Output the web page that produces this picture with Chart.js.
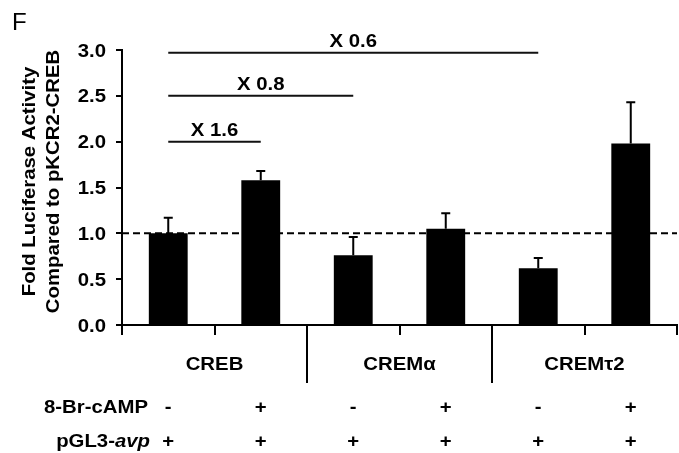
<!DOCTYPE html>
<html>
<head>
<meta charset="utf-8">
<script src="https://cdn.jsdelivr.net/npm/chart.js@4/dist/chart.umd.min.js"></script>
<style>
  html, body { margin: 0; padding: 0; background: #ffffff; }
  #wrap { width: 679px; height: 453px; }
</style>
</head>
<body>
<div id="wrap"><canvas id="c" width="679" height="453"></canvas></div>
<script>
// ---- data ----
const categories = ['CREB -', 'CREB +', 'CREMα -', 'CREMα +', 'CREMτ2 -', 'CREMτ2 +'];
const groupLabels = ['CREB', 'CREMα', 'CREMτ2'];
const meanValues = [1.00, 1.58, 0.76, 1.05, 0.62, 1.98];
const errorValues = [0.17, 0.10, 0.20, 0.17, 0.11, 0.45];
const campSigns = ['-', '+', '-', '+', '-', '+'];
const pgl3Signs = ['+', '+', '+', '+', '+', '+'];
const yTickLabels = ['0.0', '0.5', '1.0', '1.5', '2.0', '2.5', '3.0'];
const yTitleLines = ['Fold Luciferase Activity', 'Compared to pKCR2-CREB'];
const bracketLabels = ['X 1.6', 'X 0.8', 'X 0.6'];
const bracketFrom = [0, 0, 0];
const bracketTo = [1, 2, 4];
const bracketLevels = [2.0, 2.5, 2.97];
const referenceLevel = 1.0;
const panelLetter = 'F';

// ---- styling ----
const BOLD = 'bold 18px "Liberation Sans", Arial, sans-serif';
const ITAL = 'italic bold 18px "Liberation Sans", Arial, sans-serif';
const STRETCH = 1.13;

function sText(ctx, text, x, y, align, font, sx) {
  ctx.save();
  ctx.font = font;
  ctx.fillStyle = '#000';
  ctx.textBaseline = 'alphabetic';
  const w = ctx.measureText(text).width * sx;
  let left = x;
  if (align === 'center') left = x - w / 2;
  else if (align === 'right') left = x - w;
  ctx.translate(left, y);
  ctx.scale(sx, 1);
  ctx.textAlign = 'left';
  ctx.fillText(text, 0, 0);
  ctx.restore();
}

const decor = {
  id: 'decor',
  afterDraw(chart) {
    const ctx = chart.ctx;
    const xs = chart.scales.x, ys = chart.scales.y;
    const area = chart.chartArea;
    const meta = chart.getDatasetMeta(0);

    // reference dashed line
    ctx.save();
    ctx.strokeStyle = '#000';
    ctx.lineWidth = 2;
    ctx.setLineDash([7, 4]);
    const yr = ys.getPixelForValue(referenceLevel);
    ctx.beginPath();
    ctx.moveTo(area.left, yr);
    ctx.lineTo(area.right, yr);
    ctx.stroke();
    ctx.restore();

    // error bars (upper only)
    ctx.save();
    ctx.strokeStyle = '#000';
    ctx.lineWidth = 2;
    meta.data.forEach((el, i) => {
      const yTop = ys.getPixelForValue(meanValues[i] + errorValues[i]);
      ctx.beginPath();
      ctx.moveTo(el.x, el.y);
      ctx.lineTo(el.x, yTop);
      ctx.moveTo(el.x - 4.5, yTop);
      ctx.lineTo(el.x + 4.5, yTop);
      ctx.stroke();
    });
    ctx.restore();

    // comparison brackets
    ctx.save();
    ctx.strokeStyle = '#111';
    ctx.lineWidth = 2;
    bracketLabels.forEach((lab, i) => {
      const x1 = xs.getPixelForValue(bracketFrom[i]);
      const x2 = xs.getPixelForValue(bracketTo[i]);
      const y = ys.getPixelForValue(bracketLevels[i]);
      ctx.beginPath();
      ctx.moveTo(x1, y);
      ctx.lineTo(x2, y);
      ctx.stroke();
      sText(ctx, lab, (x1 + x2) / 2, y - 6, 'center', BOLD, STRETCH);
    });
    ctx.restore();

    // group separators (long ticks)
    ctx.save();
    ctx.strokeStyle = '#000';
    ctx.lineWidth = 2;
    for (let g = 1; g < groupLabels.length; g++) {
      const xb = (xs.getPixelForValue(2 * g - 1) + xs.getPixelForValue(2 * g)) / 2;
      ctx.beginPath();
      ctx.moveTo(xb, area.bottom);
      ctx.lineTo(xb, area.bottom + 58);
      ctx.stroke();
    }
    ctx.restore();

    // group labels
    groupLabels.forEach((lab, g) => {
      const xc = (xs.getPixelForValue(2 * g) + xs.getPixelForValue(2 * g + 1)) / 2;
      sText(ctx, lab, xc, area.bottom + 45, 'center', BOLD, STRETCH);
    });

    // treatment rows
    const row1 = area.bottom + 88, row2 = area.bottom + 122;
    const labRight = 148;
    sText(ctx, '8-Br-cAMP', labRight, row1, 'right', BOLD, STRETCH);
    ctx.save();
    ctx.font = BOLD;
    const wA = ctx.measureText('pGL3-').width * STRETCH;
    ctx.font = ITAL;
    const wB = ctx.measureText('avp').width * STRETCH;
    ctx.restore();
    sText(ctx, 'pGL3-', labRight + 2 - wA - wB, row2, 'left', BOLD, STRETCH);
    sText(ctx, 'avp', labRight + 2 - wB, row2, 'left', ITAL, STRETCH);
    categories.forEach((c, i) => {
      const xc = xs.getPixelForValue(i);
      sText(ctx, campSigns[i], xc, row1, 'center', BOLD, STRETCH);
      sText(ctx, pgl3Signs[i], xc, row2, 'center', BOLD, STRETCH);
    });

    // y tick labels
    ys.ticks.forEach((t, i) => {
      const yp = ys.getPixelForValue(t.value);
      const lab = yTickLabels[i];
      if (lab !== undefined) sText(ctx, lab, area.left - 16, yp + 6.5, 'right', BOLD, STRETCH);
    });

    // y title (rotated)
    const ym = (area.top + area.bottom) / 2 - 6;
    [35, 59].forEach((bx, k) => {
      ctx.save();
      ctx.font = BOLD;
      ctx.fillStyle = '#000';
      ctx.translate(bx, ym);
      ctx.rotate(-Math.PI / 2);
      ctx.scale(STRETCH, 1);
      ctx.textAlign = 'center';
      ctx.textBaseline = 'alphabetic';
      ctx.fillText(yTitleLines[k], 0, 0);
      ctx.restore();
    });

    // panel letter
    ctx.save();
    ctx.font = '24px "Liberation Sans", Arial, sans-serif';
    ctx.fillStyle = '#000';
    ctx.textAlign = 'left';
    ctx.textBaseline = 'alphabetic';
    ctx.fillText(panelLetter, 12, 30);
    ctx.restore();
  }
};

new Chart(document.getElementById('c'), {
  type: 'bar',
  data: {
    labels: categories,
    datasets: [{
      data: meanValues,
      backgroundColor: '#000',
      borderWidth: 0,
      barPercentage: 0.42,
      categoryPercentage: 1.0
    }]
  },
  options: {
    responsive: false,
    animation: false,
    devicePixelRatio: 1,
    layout: { padding: { top: 50, right: 2, left: 0, bottom: 0 } },
    plugins: { legend: { display: false }, tooltip: { enabled: false }, title: { display: false } },
    scales: {
      x: {
        type: 'category',
        offset: true,
        grid: { display: true, drawOnChartArea: false, drawTicks: true, tickLength: 10, color: '#000', lineWidth: 2, offset: true },
        border: { display: true, color: '#000', width: 2 },
        ticks: { display: false },
        afterFit(scale) { scale.height = 128; }
      },
      y: {
        min: 0,
        max: 3,
        ticks: { display: false, stepSize: 0.5 },
        grid: { display: true, drawOnChartArea: false, drawTicks: true, tickLength: 6, color: '#000', lineWidth: 2 },
        border: { display: true, color: '#000', width: 2 },
        afterFit(scale) { scale.width = 122; }
      }
    }
  },
  plugins: [decor]
});
</script>
</body>
</html>
